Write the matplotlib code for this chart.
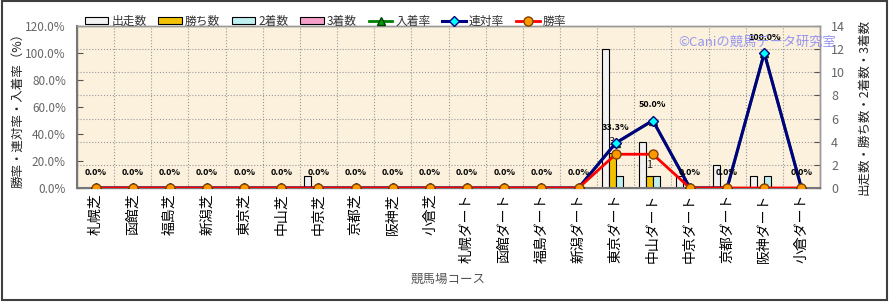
import numpy as np
import matplotlib
matplotlib.use("Agg")
import matplotlib.pyplot as plt
from matplotlib.patches import Rectangle
from matplotlib.ticker import FuncFormatter, FixedLocator

plt.rcParams['font.family'] = ['Noto Sans CJK JP', 'DejaVu Sans']

# ---------------- data ----------------
courses = ['札幌芝', '函館芝', '福島芝', '新潟芝', '東京芝', '中山芝', '中京芝', '京都芝', '阪神芝', '小倉芝',
           '札幌ダート', '函館ダート', '福島ダート', '新潟ダート', '東京ダート', '中山ダート', '中京ダート',
           '京都ダート', '阪神ダート', '小倉ダート']
starts = [0, 0, 0, 0, 0, 0, 1, 0, 0, 0, 0, 0, 0, 0, 12, 4, 1, 2, 1, 0]
wins = [0, 0, 0, 0, 0, 0, 0, 0, 0, 0, 0, 0, 0, 0, 3, 1, 0, 0, 0, 0]
seconds = [0, 0, 0, 0, 0, 0, 0, 0, 0, 0, 0, 0, 0, 0, 1, 1, 0, 0, 1, 0]
thirds = [0] * 20
win_rate = [0, 0, 0, 0, 0, 0, 0, 0, 0, 0, 0, 0, 0, 0, 25.0, 25.0, 0, 0, 0, 0]
quinella_rate = [0, 0, 0, 0, 0, 0, 0, 0, 0, 0, 0, 0, 0, 0, 33.3, 50.0, 0, 0, 100.0, 0]
place_rate = [0, 0, 0, 0, 0, 0, 0, 0, 0, 0, 0, 0, 0, 0, 33.3, 50.0, 0, 0, 100.0, 0]

x = np.arange(len(courses))

fig = plt.figure(figsize=(8.9, 3.02), dpi=100)
ax2 = fig.add_axes([77 / 890, 1 - 188 / 302, 743 / 890, 162 / 302])
ax = ax2.twinx()
ax.yaxis.tick_left()
ax.yaxis.set_label_position('left')
ax2.yaxis.tick_right()
ax2.yaxis.set_label_position('right')
ax.set_zorder(ax2.get_zorder() + 1)
ax.patch.set_visible(False)
ax2.set_facecolor('#FBF1DD')

# bars (counts, right axis)
bw = 0.19
bar_specs = [(starts, '#F2F2F2', '出走数'), (wins, '#F2C200', '勝ち数'),
             (seconds, '#BFEFEF', '2着数'), (thirds, '#F5A0C8', '3着数')]
bars = []
for i, (vals, col, lab) in enumerate(bar_specs):
    b = ax2.bar(x + (i - 1.5) * bw, vals, bw, color=col, edgecolor='black', linewidth=0.8,
                label=lab, zorder=3)
    bars.append(b)

for xi, w in zip(x, wins):
    if w > 0:
        ax2.text(xi - 0.5 * bw, w + 0.55, str(w), ha='center', va='bottom', fontsize=8,
                 color='#222222', zorder=5)

# lines (rates, left axis)
l1, = ax.plot(x, place_rate, color='#008000', lw=2, marker='^', ms=6,
              mfc='#00A000', mec='#004000', label='入着率', zorder=3)
l2, = ax.plot(x, quinella_rate, color='#000080', lw=2.2, marker='D', ms=5.5,
              mfc='#00FFFF', mec='#000080', label='連対率', zorder=4)
l3, = ax.plot(x, win_rate, color='#FF0000', lw=2, marker='o', ms=6.5,
              mfc='#FF9900', mec='#804000', label='勝率', zorder=5)

for xi, r in zip(x, quinella_rate):
    ax.annotate('%.1f%%' % r, (xi, r), xytext=(0, 11.5), textcoords='offset points',
                ha='center', va='center', fontsize=6.5, fontweight='bold', zorder=6)

ax.set_xlim(-0.5, len(courses) - 0.5)
ax.set_ylim(0, 120)
ax2.set_ylim(0, 14)
ax.set_yticks(np.arange(0, 121, 20))
ax.yaxis.set_major_formatter(FuncFormatter(lambda v, p: '%.1f%%' % v))
ax2.set_yticks(np.arange(0, 15, 2))

ax2.set_xticks(x)
ax2.set_xticklabels(courses, rotation=90, fontsize=10, color='black')
ax2.xaxis.set_minor_locator(FixedLocator(np.arange(-0.5, len(courses), 1.0)))
ax2.grid(True, which='minor', axis='x', ls=':', color='#999999', lw=0.8, zorder=0)
ax2.grid(True, which='major', axis='y', ls=':', color='#999999', lw=0.8, zorder=0)
ax2.tick_params(axis='x', which='both', length=0, pad=4)
ax2.tick_params(axis='y', direction='in', length=4, colors='#555555', labelsize=9,
                labelcolor='#666666', pad=8)
ax.tick_params(axis='y', direction='in', length=4, colors='#555555', labelsize=8.5,
               labelcolor='#666666', pad=8)
ax.tick_params(axis='x', length=0)

for a in (ax, ax2):
    for s in a.spines.values():
        s.set_color('#999999')
        s.set_linewidth(1.0)
ax.spines['left'].set_color('#777777')
ax.spines['left'].set_linewidth(1.5)
ax.spines['bottom'].set_color('#777777')
ax.spines['bottom'].set_linewidth(1.5)

ax.set_ylabel('勝率・連対率・入着率（%）', fontsize=9, color='#222222', labelpad=1)
ax2.set_ylabel('出走数・勝ち数・2着数・3着数', fontsize=9, color='#222222', rotation=90, labelpad=9)
ax2.set_xlabel('競馬場コース', fontsize=9, color='#555555', labelpad=7)

handles = [b for b in bars] + [l1, l2, l3]
fig.legend(handles=handles, labels=[h.get_label() for h in handles], loc='upper left',
           bbox_to_anchor=(74 / 890, 1 - 4 / 302), ncol=7, frameon=False, fontsize=8.5,
           handlelength=2.0, handleheight=0.5, columnspacing=1.0, handletextpad=0.25,
           labelcolor='#333333')

fig.text(836 / 890, 1 - 42 / 302, '©Caniの競馬データ研究室', ha='right', va='center',
         fontsize=9.5, color='#8C8CF0', alpha=0.9)

fig.patches.append(Rectangle((0.002, 0.006), 0.995, 0.99, transform=fig.transFigure,
                             fill=False, edgecolor='#404040', lw=1.5))

fig.savefig('out.png', dpi=100)
